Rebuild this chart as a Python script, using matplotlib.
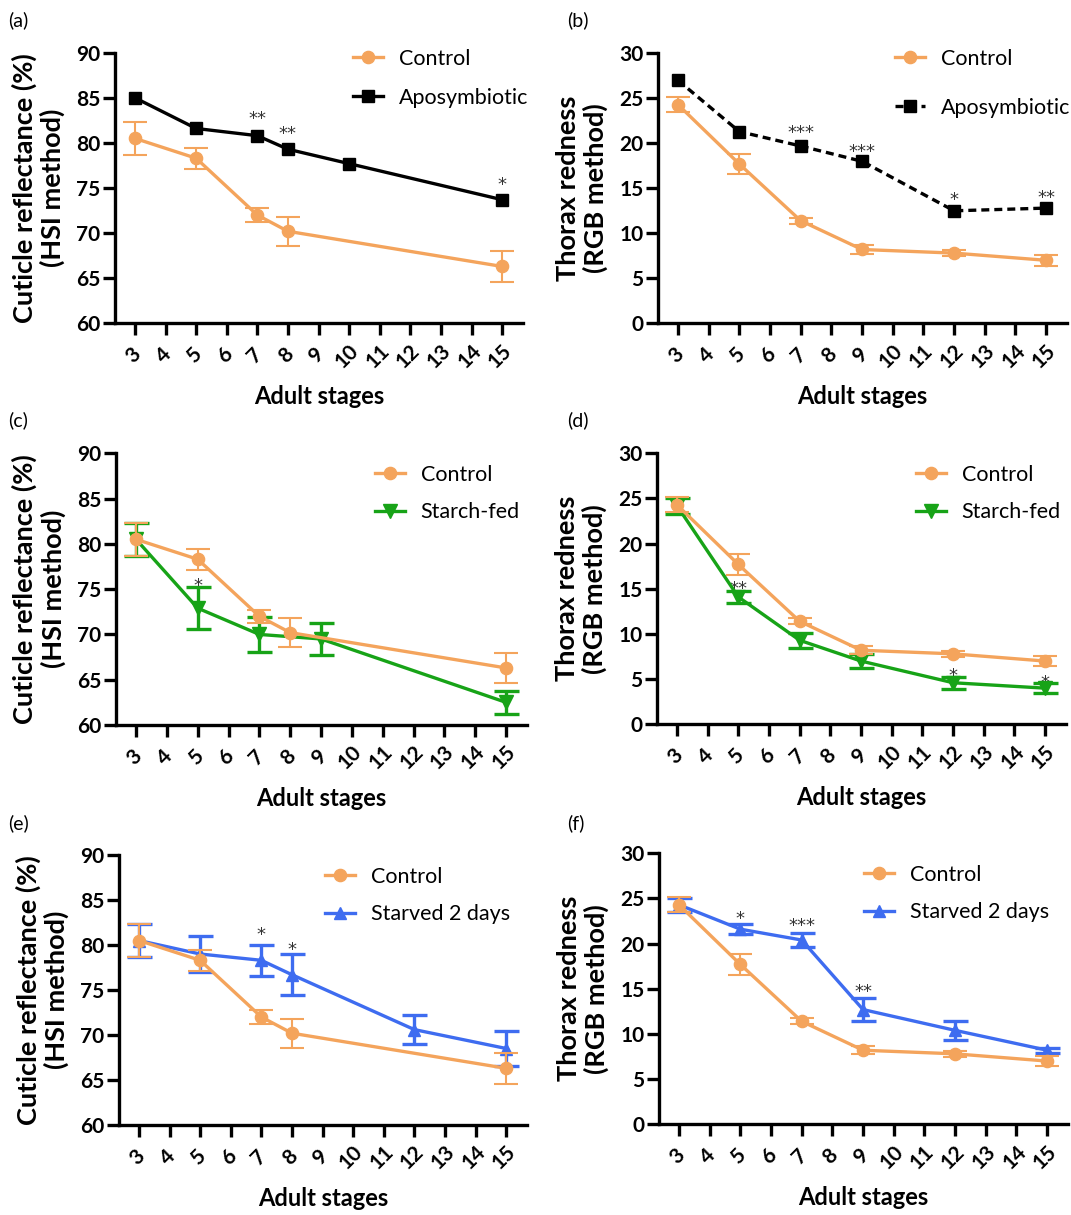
import matplotlib
matplotlib.use("Agg")
import matplotlib.pyplot as plt
from matplotlib.transforms import ScaledTranslation

plt.rcParams['font.family'] = ['Lato', 'DejaVu Sans']

# ---------------- data ----------------
stages_ticks = list(range(3, 16))

# Control (shared across panels)
ctrl_hsi_x = [3, 5, 7, 8, 15]
ctrl_hsi = [80.5, 78.3, 72.0, 70.2, 66.3]
ctrl_hsi_err = [1.85, 1.15, 0.75, 1.6, 1.7]

ctrl_rgb_x = [3, 5, 7, 9, 12, 15]
ctrl_rgb = [24.3, 17.7, 11.4, 8.2, 7.8, 7.0]
ctrl_rgb_err = [0.85, 1.15, 0.35, 0.45, 0.3, 0.6]

# Aposymbiotic
apo_hsi_x = [3, 5, 7, 8, 10, 15]
apo_hsi = [85.0, 81.6, 80.8, 79.3, 77.7, 73.7]
apo_rgb_x = [3, 5, 7, 9, 12, 15]
apo_rgb = [27.0, 21.3, 19.7, 18.0, 12.5, 12.8]

# Starch-fed
starch_hsi_x = [3, 5, 7, 9, 15]
starch_hsi = [80.5, 72.9, 70.0, 69.5, 62.5]
starch_hsi_err = [1.8, 2.35, 1.9, 1.75, 1.3]
starch_rgb_x = [3, 5, 7, 9, 12, 15]
starch_rgb = [24.2, 14.1, 9.3, 7.0, 4.6, 4.0]
starch_rgb_err = [0.9, 0.65, 0.8, 0.75, 0.65, 0.55]

# Starved 2 days
starved_hsi_x = [3, 5, 7, 8, 12, 15]
starved_hsi = [80.5, 79.0, 78.3, 76.7, 70.6, 68.5]
starved_hsi_err = [1.8, 1.95, 1.7, 2.3, 1.6, 1.95]
starved_rgb_x = [3, 5, 7, 9, 12, 15]
starved_rgb = [24.3, 21.6, 20.4, 12.7, 10.4, 8.2]
starved_rgb_err = [0.8, 0.55, 0.8, 1.25, 1.05, 0.3]

# significance labels: (stage, label, y-position of label centre)
sig_a = [(7, "**", 83.2), (8, "**", 81.6), (15, "*", 75.9)]
sig_b = [(7, "***", 21.7), (9, "***", 19.6), (12, "*", 14.3), (15, "**", 14.5)]
sig_c = [(5, "*", 76.0)]
sig_d = [(5, "**", 15.6), (12, "*", 6.0), (15, "*", 5.2)]
sig_e = [(7, "*", 81.7), (8, "*", 80.1)]
sig_f = [(5, "*", 23.3), (7, "***", 22.5), (9, "**", 15.2)]

hsi_label = "Cuticle reflectance (%)\n(HSI method)"
rgb_label = "Thorax redness\n(RGB method)"
x_label = "Adult stages"

# ---------------- style ----------------
ORANGE = "#F4A45C"
GREEN = "#17A317"
BLUE = "#3E6CF0"
BLACK = "#000000"
W, H = 1071, 1215
XLIM = (2.35, 15.68)

fig = plt.figure(figsize=(W / 100, H / 100), dpi=100)


def make_ax(l, r, t, b):
    return fig.add_axes([l / W, 1 - b / H, (r - l) / W, (b - t) / H])


def style_ax(ax, ylim, yticks, ylabel):
    ax.set_xlim(*XLIM)
    ax.set_ylim(*ylim)
    ax.set_yticks(yticks)
    ax.set_xticks(stages_ticks)
    ax.spines['top'].set_visible(False)
    ax.spines['right'].set_visible(False)
    for s in ('left', 'bottom'):
        ax.spines[s].set_linewidth(2.4)
        ax.spines[s].set_capstyle('projecting')
    ax.tick_params(width=2.4, length=8.4, direction='out', labelsize=15)
    ax.tick_params(axis='y', pad=2)
    ax.tick_params(axis='x', pad=15)
    off = ScaledTranslation(-2 / 100, 0, fig.dpi_scale_trans)
    for lab in ax.get_yticklabels():
        lab.set_fontweight('bold')
    for lab in ax.get_xticklabels():
        lab.set_fontweight('bold')
        lab.set_rotation(45)
        lab.set_ha('center')
        lab.set_va('center')
        lab.set_transform(lab.get_transform() + off)
    ax.set_ylabel(ylabel, fontsize=19.5, fontweight='bold', linespacing=1.15)
    ax.yaxis.set_label_coords(-0.122, 0.5)
    ax.set_xlabel(x_label, fontsize=17, fontweight='bold')
    ax.xaxis.set_label_coords(0.5, -0.228)


def series(ax, x, y, err, color, marker, label, ms=8.8, ls='-', dashes=None, z=3, elw=1.5, cap=8.5):
    if err is not None:
        ax.errorbar(x, y, yerr=err, fmt='none', ecolor=color, elinewidth=elw,
                    capsize=cap, capthick=elw, zorder=z)
    kw = {}
    if dashes is not None:
        kw['dashes'] = dashes
    ax.plot(x, y, color=color, lw=2.4, ls=ls, marker=marker, ms=ms,
            label=label, zorder=z + 0.5, clip_on=False, **kw)


def stars(ax, sig):
    for x, lab, yv in sig:
        ax.annotate(lab, (x, yv), xytext=(0, -7.5), textcoords='offset points',
                    ha='center', va='baseline', fontsize=13, color='#333333',
                    family=['DejaVu Sans'])


def legend(ax, handles, labels, x_px, yc_px, spacing):
    ax.legend(handles, labels, loc='upper left',
              bbox_to_anchor=(x_px / W, 1 - (yc_px - 8) / H),
              bbox_transform=fig.transFigure, frameon=False, fontsize=15.5,
              handlelength=1.4, handletextpad=0.72, labelspacing=spacing,
              borderpad=0, borderaxespad=0)


def panel_label(x_px, y_px, txt):
    fig.text(x_px / W, 1 - y_px / H, txt, fontsize=14, va='center', ha='left')


# (a)
ax = make_ax(115, 523, 52.7, 323.3)
series(ax, apo_hsi_x, apo_hsi, None, BLACK, 's', 'Aposymbiotic', ms=8.5, z=3)
series(ax, ctrl_hsi_x, ctrl_hsi, ctrl_hsi_err, ORANGE, 'o', 'Control', z=5)
style_ax(ax, (60, 90), range(60, 91, 5), hsi_label)
stars(ax, sig_a)
h, l = ax.get_legend_handles_labels()
legend(ax, [h[1], h[0]], [l[1], l[0]], 353, 57, 0.86)
panel_label(8, 20, "(a)")

# (b)
ax = make_ax(658, 1067, 53.3, 323.3)
series(ax, apo_rgb_x, apo_rgb, None, BLACK, 's', 'Aposymbiotic', ms=8.5, ls='--', dashes=(2.4, 1.5), z=3)
series(ax, ctrl_rgb_x, ctrl_rgb, ctrl_rgb_err, ORANGE, 'o', 'Control', z=5)
style_ax(ax, (0, 30), range(0, 31, 5), rgb_label)
stars(ax, sig_b)
h, l = ax.get_legend_handles_labels()
legend(ax, [h[1], h[0]], [l[1], l[0]], 895, 57, 1.33)
panel_label(567, 20, "(b)")

# (c)
ax = make_ax(116, 527, 453.3, 725)
series(ax, ctrl_hsi_x, ctrl_hsi, ctrl_hsi_err, ORANGE, 'o', 'Control', z=5)
series(ax, starch_hsi_x, starch_hsi, starch_hsi_err, GREEN, 'v', 'Starch-fed', ms=9.5, z=3, elw=2.4, cap=9)
style_ax(ax, (60, 90), range(60, 91, 5), hsi_label)
stars(ax, sig_c)
h, l = ax.get_legend_handles_labels()
legend(ax, h, l, 375, 473, 0.81)
panel_label(8, 420, "(c)")

# (d)
ax = make_ax(657, 1066, 453.3, 724.3)
series(ax, ctrl_rgb_x, ctrl_rgb, ctrl_rgb_err, ORANGE, 'o', 'Control', z=5)
series(ax, starch_rgb_x, starch_rgb, starch_rgb_err, GREEN, 'v', 'Starch-fed', ms=9.5, z=3, elw=2.4, cap=9)
style_ax(ax, (0, 30), range(0, 31, 5), rgb_label)
stars(ax, sig_d)
h, l = ax.get_legend_handles_labels()
legend(ax, h, l, 916, 473, 0.81)
panel_label(567, 420, "(d)")

# (e)
ax = make_ax(119, 527, 855, 1125)
series(ax, ctrl_hsi_x, ctrl_hsi, ctrl_hsi_err, ORANGE, 'o', 'Control', z=5)
series(ax, starved_hsi_x, starved_hsi, starved_hsi_err, BLUE, '^', 'Starved 2 days', ms=9, z=3, elw=2.4, cap=9)
style_ax(ax, (60, 90), range(60, 91, 5), hsi_label)
stars(ax, sig_e)
h, l = ax.get_legend_handles_labels()
legend(ax, h, l, 325, 875, 0.81)
panel_label(8, 823, "(e)")

# (f)
ax = make_ax(659, 1068, 853.3, 1124.3)
series(ax, ctrl_rgb_x, ctrl_rgb, ctrl_rgb_err, ORANGE, 'o', 'Control', z=5)
series(ax, starved_rgb_x, starved_rgb, starved_rgb_err, BLUE, '^', 'Starved 2 days', ms=9, z=3, elw=2.4, cap=9)
style_ax(ax, (0, 30), range(0, 31, 5), rgb_label)
stars(ax, sig_f)
h, l = ax.get_legend_handles_labels()
legend(ax, h, l, 864, 873, 0.81)
panel_label(567, 823, "(f)")

fig.savefig("out.png", dpi=100)
